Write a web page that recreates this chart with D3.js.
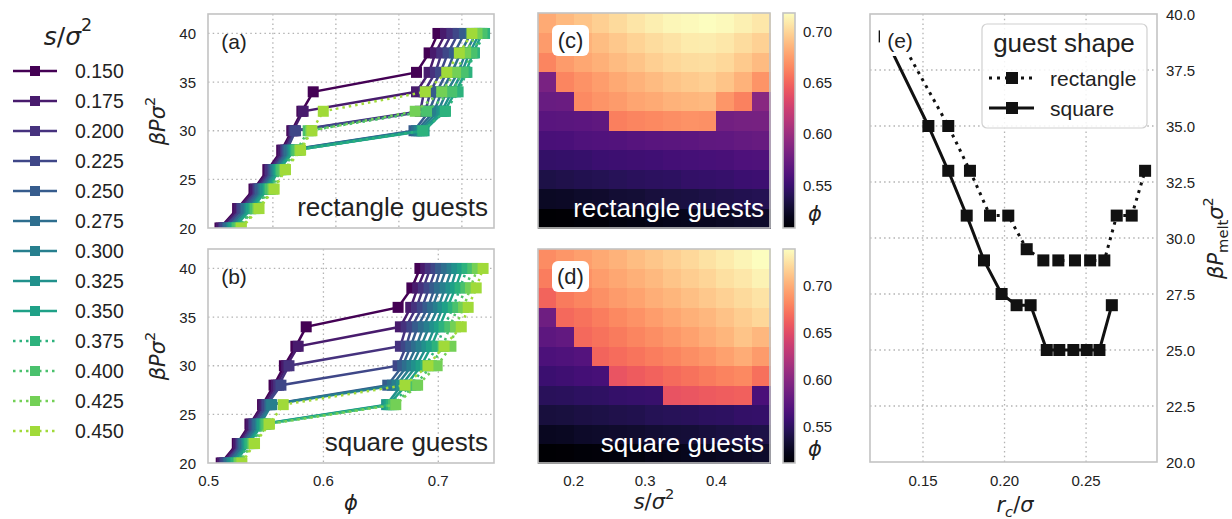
<!DOCTYPE html>
<html><head><meta charset="utf-8">
<script src="https://cdn.jsdelivr.net/npm/d3@7"></script>
<style>
body{margin:0;background:#fff;}
svg text{font-family:"Liberation Sans",Arial,sans-serif;fill:#222;}
svg text.math{font-family:"DejaVu Sans",sans-serif;}
</style></head><body>
<svg id="chart" width="1232" height="519"></svg>
<script>
// ---------------- data ----------------
const sValues = [0.150,0.175,0.200,0.225,0.250,0.275,0.300,0.325,0.350,0.375,0.400,0.425,0.450];
const sLabels = ["0.150","0.175","0.200","0.225","0.250","0.275","0.300","0.325","0.350","0.375","0.400","0.425","0.450"];
const pressures = [20,22,24,26,28,30,32,34,36,38,40];

// packing fraction phi for rectangle guests, one row per s, columns = pressures
const phiRect = [
  [0.508,0.522,0.535,0.546,0.557,0.565,0.573,0.582,0.664,0.674,0.681],
  [0.509,0.523,0.536,0.547,0.558,0.566,0.574,0.664,0.674,0.679,0.687],
  [0.511,0.525,0.538,0.548,0.560,0.567,0.667,0.670,0.679,0.684,0.692],
  [0.512,0.526,0.539,0.550,0.561,0.568,0.671,0.675,0.683,0.689,0.697],
  [0.514,0.528,0.540,0.551,0.562,0.662,0.674,0.680,0.688,0.694,0.702],
  [0.515,0.529,0.542,0.552,0.563,0.664,0.678,0.684,0.692,0.699,0.707],
  [0.517,0.531,0.543,0.553,0.565,0.666,0.681,0.688,0.697,0.703,0.711],
  [0.518,0.532,0.544,0.554,0.566,0.668,0.684,0.692,0.700,0.706,0.714],
  [0.519,0.533,0.546,0.555,0.567,0.670,0.686,0.695,0.703,0.709,0.716],
  [0.521,0.535,0.547,0.556,0.568,0.669,0.687,0.697,0.704,0.710,0.718],
  [0.522,0.536,0.548,0.557,0.569,0.578,0.672,0.692,0.701,0.708,0.716],
  [0.524,0.538,0.550,0.559,0.571,0.580,0.663,0.684,0.695,0.703,0.712],
  [0.525,0.539,0.551,0.560,0.572,0.581,0.590,0.671,0.688,0.698,0.708]
];
// packing fraction phi for square guests
const phiSquare = [
  [0.511,0.525,0.536,0.547,0.557,0.566,0.576,0.585,0.665,0.677,0.684],
  [0.512,0.526,0.537,0.548,0.559,0.568,0.578,0.667,0.676,0.682,0.689],
  [0.514,0.528,0.539,0.550,0.561,0.570,0.667,0.672,0.681,0.687,0.693],
  [0.515,0.529,0.540,0.551,0.563,0.665,0.672,0.677,0.686,0.692,0.698],
  [0.517,0.530,0.542,0.553,0.656,0.669,0.676,0.682,0.691,0.697,0.702],
  [0.518,0.531,0.543,0.554,0.660,0.673,0.681,0.687,0.695,0.701,0.707],
  [0.520,0.533,0.545,0.555,0.664,0.677,0.685,0.692,0.700,0.706,0.712],
  [0.521,0.534,0.546,0.655,0.668,0.681,0.690,0.697,0.704,0.711,0.716],
  [0.523,0.535,0.547,0.657,0.672,0.685,0.694,0.701,0.708,0.715,0.721],
  [0.524,0.536,0.549,0.659,0.676,0.689,0.699,0.705,0.713,0.719,0.725],
  [0.526,0.538,0.550,0.661,0.680,0.694,0.704,0.710,0.717,0.724,0.730],
  [0.527,0.539,0.552,0.663,0.682,0.699,0.711,0.715,0.722,0.728,0.734],
  [0.529,0.540,0.553,0.565,0.671,0.691,0.705,0.720,0.726,0.733,0.739]
];

// panel (e): melting pressure vs r_c
const rcRect      = [0.135,0.1655,0.1788,0.1911,0.2023,0.2136,0.2238,0.2330,0.2432,0.2525,0.2612,0.2688,0.2780,0.2862];
const pMeltRect   = [39,35,33,31,31,29.5,29,29,29,29,29,31,31,33];
const rcSquare    = [0.1265,0.1533,0.1655,0.1768,0.1874,0.1982,0.2074,0.2160,0.2259,0.2336,0.2422,0.2504,0.2582,0.2658];
const pMeltSquare = [39,35,33,31,29,27.5,27,27,25,25,25,25,25,27];

// ticks
const phiTicksA = [0.55,0.60,0.65,0.70];
const phiTicksB = [0.5,0.6,0.7];
const pTicks = [20,25,30,35,40];
const sTicks = [0.2,0.3,0.4];
const cbTicks = [0.55,0.60,0.65,0.70];
const rcTicks = [0.15,0.20,0.25];
const pMeltTicks = [20,22.5,25,27.5,30,32.5,35,37.5,40];

// ---------------- drawing ----------------
const svg = d3.select("#chart");
const defs = svg.append("defs");
const gridColor = "#b3b3b3", frameColor = "#c3c3c3";
const color = d3.scaleSequential(d3.interpolateViridis).domain([0.15, 0.5]);

function mathText(sel, parts, size) {
  let cur = 0;
  parts.forEach(p => {
    const fs = p.shift ? size * 0.7 : size;
    const target = p.shift === "sup" ? -0.45 * size : p.shift === "sub" ? 0.28 * size : 0;
    sel.append("tspan").attr("dy", target - cur).attr("font-size", fs)
      .attr("font-style", p.i ? "italic" : "normal").text(p.t);
    cur = target;
  });
}
function frame(g, b) {
  g.append("rect").attr("x", b.x0).attr("y", b.y0).attr("width", b.x1 - b.x0).attr("height", b.y1 - b.y0)
    .attr("fill", "none").attr("stroke", frameColor).attr("stroke-width", 1.6);
}
function vgrid(g, vals, x, b) {
  g.selectAll(null).data(vals).enter().append("line")
    .attr("x1", d => x(d)).attr("x2", d => x(d)).attr("y1", b.y0).attr("y2", b.y1)
    .attr("stroke", gridColor).attr("stroke-width", 1.3).attr("stroke-dasharray", "1.5,3.2");
}
function hgrid(g, vals, y, b) {
  g.selectAll(null).data(vals).enter().append("line")
    .attr("y1", d => y(d)).attr("y2", d => y(d)).attr("x1", b.x0).attr("x2", b.x1)
    .attr("stroke", gridColor).attr("stroke-width", 1.3).attr("stroke-dasharray", "1.5,3.2");
}

// ---- line panels (a), (b) ----
function linePanel(id, b, xdom, xticks, table, showX, tag, caption) {
  const x = d3.scaleLinear().domain(xdom).range([b.x0, b.x1]);
  const y = d3.scaleLinear().domain([20, 42]).range([b.y1, b.y0]);
  const g = svg.append("g");
  defs.append("clipPath").attr("id", "clip" + id).append("rect")
    .attr("x", b.x0).attr("y", b.y0).attr("width", b.x1 - b.x0).attr("height", b.y1 - b.y0);
  vgrid(g, xticks.filter(v => x(v) > b.x0 + 2), x, b);
  hgrid(g, pTicks.filter(v => y(v) < b.y1 - 2), y, b);
  const data = g.append("g").attr("clip-path", `url(#clip${id})`);
  const line = d3.line().x(d => x(d[0])).y(d => y(d[1]));
  table.forEach((row, k) => {
    const pts = row.map((v, i) => [v, pressures[i]]);
    const sg = data.append("g");
    sg.append("path").attr("d", line(pts)).attr("fill", "none").attr("stroke", color(sValues[k]))
      .attr("stroke-width", 2.5).attr("stroke-dasharray", k >= 9 ? "2.5,4" : null);
    sg.selectAll("rect").data(pts).enter().append("rect")
      .attr("x", d => x(d[0]) - 5.5).attr("y", d => y(d[1]) - 5.5).attr("width", 11).attr("height", 11)
      .attr("fill", color(sValues[k]));
  });
  frame(g, b);
  g.selectAll(null).data(pTicks).enter().append("text")
    .attr("x", b.x0 - 12).attr("y", d => y(d)).attr("text-anchor", "end")
    .attr("dominant-baseline", "central").attr("font-size", 15).text(d => d);
  if (showX) {
    g.selectAll(null).data(xticks).enter().append("text")
      .attr("x", d => x(d)).attr("y", b.y1 + 17).attr("text-anchor", "middle")
      .attr("dominant-baseline", "central").attr("font-size", 15).text(d => d3.format(".1f")(d));
  }
  g.append("text").attr("x", b.x0 + 26).attr("y", b.y0 + 27).attr("text-anchor", "middle")
    .attr("dominant-baseline", "central").attr("font-size", 21).text(tag);
  g.append("text").attr("x", b.x1 - 6).attr("y", b.y1 - 12).attr("text-anchor", "end")
    .attr("font-size", 26).text(caption);
  const yl = g.append("text").attr("class", "math")
    .attr("transform", `translate(158,${(b.y0 + b.y1) / 2}) rotate(-90)`)
    .attr("text-anchor", "middle").attr("dominant-baseline", "central");
  mathText(yl, [{t:"βPσ", i:true}, {t:"2", shift:"sup"}], 21);
}

const boxA = {x0:208, x1:494, y0:14, y1:228};
const boxB = {x0:208, x1:494, y0:249, y1:463};
linePanel("a", boxA, [0.4985, 0.7255], phiTicksA, phiRect, false, "(a)", "rectangle guests");
linePanel("b", boxB, [0.4995, 0.7485], phiTicksB, phiSquare, true, "(b)", "square guests");
const xlA = svg.append("text").attr("class", "math").attr("x", 351).attr("y", 503)
  .attr("text-anchor", "middle").attr("dominant-baseline", "central");
mathText(xlA, [{t:"ϕ", i:true}], 21);

// ---- heatmaps (c), (d) ----
function heatPanel(id, b, table, showX, tag, caption) {
  const x = d3.scaleLinear().domain([0.15, 0.475]).range([b.x0, b.x1]);
  const y = d3.scaleLinear().domain([19, 41]).range([b.y1, b.y0]);
  const ext = d3.extent(table.flat());
  const c = d3.scaleSequential(d3.interpolateMagma).domain(ext);
  const g = svg.append("g");
  table.forEach((row, k) => {
    g.selectAll(null).data(row.map((v, i) => ({v, p: pressures[i], s: sValues[k]}))).enter().append("rect")
      .attr("x", d => x(d.s)).attr("width", d => x(d.s + 0.025) - x(d.s) + 0.5)
      .attr("y", d => y(d.p + 1)).attr("height", d => y(d.p - 1) - y(d.p + 1) + 0.5)
      .attr("fill", d => c(d.v)).attr("shape-rendering", "crispEdges");
  });
  frame(g, b);
  g.append("rect").attr("x", b.x0 + 14).attr("y", b.y0 + 12).attr("width", 37).attr("height", 31)
    .attr("rx", 6).attr("fill", "#fff");
  g.append("text").attr("x", b.x0 + 32.5).attr("y", b.y0 + 27.5).attr("text-anchor", "middle")
    .attr("dominant-baseline", "central").attr("font-size", 22).text(tag);
  g.append("text").attr("x", b.x1 - 6).attr("y", b.y1 - 11).attr("text-anchor", "end")
    .attr("font-size", 26).style("fill", "#fff").text(caption);
  if (showX) {
    g.selectAll(null).data(sTicks).enter().append("text")
      .attr("x", d => x(d)).attr("y", b.y1 + 17).attr("text-anchor", "middle")
      .attr("dominant-baseline", "central").attr("font-size", 15).text(d => d3.format(".1f")(d));
  }
  // colorbar
  const cb = {x0: 783, x1: 795, y0: b.y0, y1: b.y1};
  const cy = d3.scaleLinear().domain(ext).range([cb.y1, cb.y0]);
  const grad = defs.append("linearGradient").attr("id", "grad" + id)
    .attr("x1", 0).attr("y1", 1).attr("x2", 0).attr("y2", 0);
  d3.range(0, 1.0001, 0.05).forEach(t => grad.append("stop").attr("offset", t)
    .attr("stop-color", d3.interpolateMagma(t)));
  g.append("rect").attr("x", cb.x0).attr("y", cb.y0).attr("width", cb.x1 - cb.x0).attr("height", cb.y1 - cb.y0)
    .attr("fill", `url(#grad${id})`);
  frame(g, cb);
  g.selectAll(null).data(cbTicks).enter().append("text")
    .attr("x", cb.x1 + 8).attr("y", d => cy(d)).attr("dominant-baseline", "central")
    .attr("font-size", 15).text(d => d3.format(".2f")(d));
  const pl = g.append("text").attr("class", "math").attr("x", 815).attr("y", b.y1 - 14)
    .attr("text-anchor", "middle").attr("dominant-baseline", "central");
  mathText(pl, [{t:"ϕ", i:true}], 21);
}
heatPanel("c", {x0:538, x1:770, y0:13, y1:228}, phiRect, false, "(c)", "rectangle guests");
heatPanel("d", {x0:538, x1:770, y0:249, y1:463}, phiSquare, true, "(d)", "square guests");
const xlD = svg.append("text").attr("class", "math").attr("x", 654).attr("y", 502)
  .attr("text-anchor", "middle").attr("dominant-baseline", "central");
mathText(xlD, [{t:"s", i:true}, {t:"/"}, {t:"σ", i:true}, {t:"2", shift:"sup"}], 21);

// ---- left legend ----
const leg = svg.append("g");
const lt = leg.append("text").attr("class", "math").attr("x", 68).attr("y", 36)
  .attr("text-anchor", "middle").attr("dominant-baseline", "central");
mathText(lt, [{t:"s", i:true}, {t:"/"}, {t:"σ", i:true}, {t:"2", shift:"sup"}], 25);
const ly = d3.scaleLinear().domain([0, 12]).range([71, 431]);
sValues.forEach((s, k) => {
  leg.append("line").attr("x1", 13).attr("x2", 57).attr("y1", ly(k)).attr("y2", ly(k))
    .attr("stroke", color(s)).attr("stroke-width", 2.5).attr("stroke-dasharray", k >= 9 ? "2.5,4" : null);
  leg.append("rect").attr("x", 30).attr("y", ly(k) - 5).attr("width", 10).attr("height", 10).attr("fill", color(s));
  leg.append("text").attr("x", 75).attr("y", ly(k)).attr("dominant-baseline", "central")
    .attr("font-size", 19.5).text(sLabels[k]);
});

// ---- panel (e) ----
const boxE = {x0:870, x1:1157, y0:14, y1:462};
const ex = d3.scaleLinear().domain([0.1175, 0.2935]).range([boxE.x0, boxE.x1]);
const ey = d3.scaleLinear().domain([20, 40]).range([boxE.y1, boxE.y0]);
const ge = svg.append("g");
vgrid(ge, rcTicks, ex, boxE);
hgrid(ge, pMeltTicks.filter(v => v > 20 && v < 40), ey, boxE);
const eline = d3.line().x(d => ex(d[0])).y(d => ey(d[1]));
function meltSeries(rc, pm, dotted) {
  const pts = rc.map((r, i) => [r, pm[i]]);
  ge.append("path").attr("d", eline(pts)).attr("fill", "none").attr("stroke", "#111")
    .attr("stroke-width", 3).attr("stroke-dasharray", dotted ? "3,5" : null);
  ge.selectAll(null).data(pts).enter().append("rect")
    .attr("x", d => ex(d[0]) - 6).attr("y", d => ey(d[1]) - 6).attr("width", 12).attr("height", 12).attr("fill", "#111");
}
meltSeries(rcRect, pMeltRect, true);
meltSeries(rcSquare, pMeltSquare, false);
frame(ge, boxE);
ge.append("rect").attr("x", 880).attr("y", 24).attr("width", 38).attr("height", 32).attr("rx", 6).attr("fill", "#fff");
ge.append("text").attr("x", 900).attr("y", 40).attr("text-anchor", "middle").attr("dominant-baseline", "central")
  .attr("font-size", 21).text("(e)");
ge.selectAll(null).data(rcTicks).enter().append("text")
  .attr("x", d => ex(d)).attr("y", boxE.y1 + 18).attr("text-anchor", "middle")
  .attr("dominant-baseline", "central").attr("font-size", 15).text(d => d3.format(".2f")(d));
ge.selectAll(null).data(pMeltTicks).enter().append("text")
  .attr("x", boxE.x1 + 9).attr("y", d => ey(d)).attr("dominant-baseline", "central")
  .attr("font-size", 15).text(d => d3.format(".1f")(d));
const xlE = svg.append("text").attr("class", "math").attr("x", 1015).attr("y", 505)
  .attr("text-anchor", "middle").attr("dominant-baseline", "central");
mathText(xlE, [{t:"r", i:true}, {t:"c", i:true, shift:"sub"}, {t:"/"}, {t:"σ", i:true}], 21);
const ylE = svg.append("text").attr("class", "math")
  .attr("transform", "translate(1216,238) rotate(-90)")
  .attr("text-anchor", "middle").attr("dominant-baseline", "central");
mathText(ylE, [{t:"βP", i:true}, {t:"melt", shift:"sub"}, {t:"σ", i:true}, {t:"2", shift:"sup"}], 21);

// legend (e)
const le = svg.append("g");
le.append("rect").attr("x", 982).attr("y", 24).attr("width", 165).attr("height", 104).attr("rx", 5)
  .attr("fill", "#fff").attr("fill-opacity", 0.85).attr("stroke", "#d0d0d0").attr("stroke-width", 1.2);
le.append("text").attr("x", 1064).attr("y", 52).attr("text-anchor", "middle").attr("font-size", 26).text("guest shape");
const legE = [{name:"rectangle", dotted:true, y:78}, {name:"square", dotted:false, y:108}];
legE.forEach(d => {
  le.append("line").attr("x1", 989).attr("x2", 1034).attr("y1", d.y).attr("y2", d.y)
    .attr("stroke", "#111").attr("stroke-width", 3).attr("stroke-dasharray", d.dotted ? "3,5" : null);
  le.append("rect").attr("x", 1006).attr("y", d.y - 6).attr("width", 12).attr("height", 12).attr("fill", "#111");
  le.append("text").attr("x", 1050).attr("y", d.y).attr("dominant-baseline", "central").attr("font-size", 21).text(d.name);
});
</script>
</body></html>
